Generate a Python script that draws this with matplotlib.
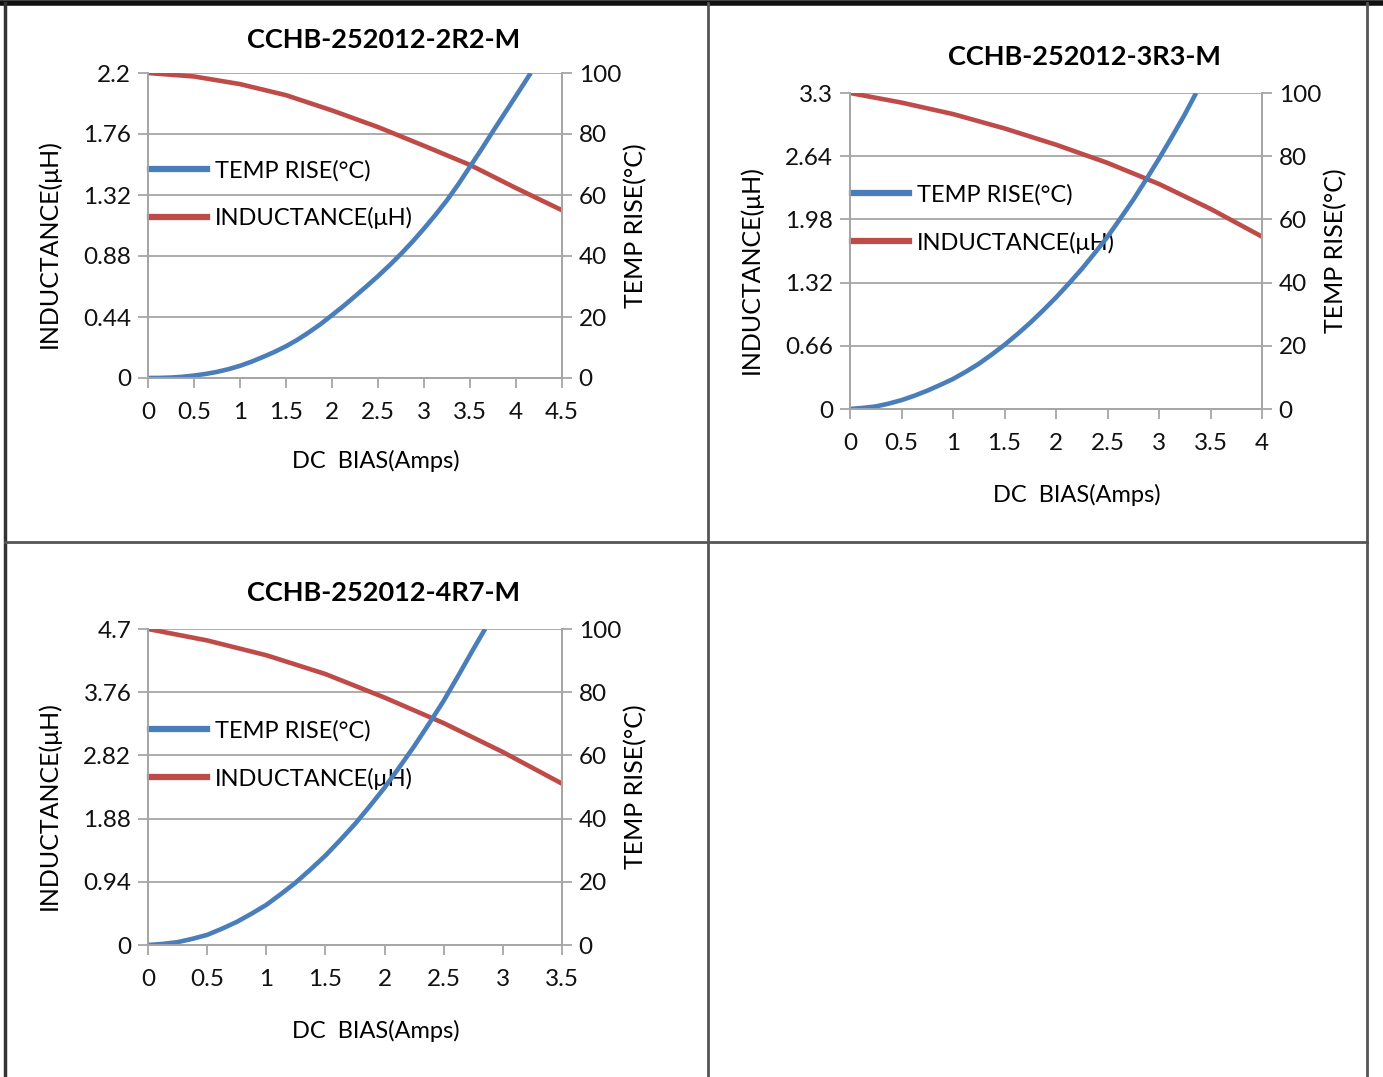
import matplotlib
matplotlib.use("Agg")
import matplotlib.pyplot as plt
from matplotlib.lines import Line2D

plt.rcParams['font.family'] = ['Lato', 'DejaVu Sans']

# ---- data ----
titles = ['CCHB-252012-2R2-M', 'CCHB-252012-3R3-M', 'CCHB-252012-4R7-M']

# panel 1 (2R2)
temp_x_1 = [0, 0.125, 0.25, 0.375, 0.5, 0.625, 0.75, 0.875, 1, 1.125, 1.25, 1.375, 1.5, 1.625,
            1.75, 1.875, 2, 2.125, 2.25, 2.375, 2.5, 2.625, 2.75, 2.875, 3, 3.125, 3.25,
            3.375, 3.5, 3.625, 3.75, 3.875, 4, 4.08, 4.16]
temp_y_1 = [0, 0.03, 0.15, 0.4, 0.8, 1.33, 2.0, 2.9, 4.0, 5.35, 6.9, 8.55, 10.4, 12.55,
            15.0, 17.65, 20.6, 23.6, 26.8, 30.05, 33.4, 36.95, 40.7, 44.7, 49.0, 53.5, 58.3,
            63.6, 69.3, 75.0, 80.9, 86.7, 92.5, 96.25, 100]
ind_x_1 = [0, 0.5, 1, 1.5, 2, 2.5, 3, 3.5, 4, 4.5]
ind_y_1 = [2.2, 2.175, 2.12, 2.04, 1.93, 1.81, 1.675, 1.537, 1.37, 1.21]

# panel 2 (3R3)
temp_x_2 = [0, 0.125, 0.25, 0.375, 0.5, 0.625, 0.75, 0.875, 1, 1.125, 1.25, 1.375, 1.5, 1.625,
            1.75, 1.875, 2, 2.125, 2.25, 2.375, 2.5, 2.625, 2.75, 2.875, 3, 3.125, 3.25,
            3.3, 3.36]
temp_y_2 = [0, 0.35, 0.8, 1.7, 2.8, 4.2, 5.8, 7.6, 9.5, 11.8, 14.3, 17.2, 20.3, 23.7,
            27.3, 31.2, 35.3, 39.7, 44.3, 49.3, 54.5, 60.3, 66.2, 72.6, 79.2, 86.1, 93.2,
            96.3, 100]
ind_x_2 = [0, 0.5, 1, 1.5, 2, 2.5, 3, 3.5, 4]
ind_y_2 = [3.3, 3.20, 3.08, 2.93, 2.76, 2.57, 2.35, 2.09, 1.80]

# panel 3 (4R7)
temp_x_3 = [0, 0.125, 0.25, 0.375, 0.5, 0.625, 0.75, 0.875, 1, 1.125, 1.25, 1.375, 1.5, 1.625,
            1.75, 1.875, 2, 2.125, 2.25, 2.375, 2.5, 2.625, 2.75, 2.8, 2.85]
temp_y_3 = [0, 0.35, 0.9, 1.95, 3.2, 5.15, 7.3, 9.9, 12.7, 16.15, 19.8, 23.95, 28.3, 33.2,
            38.3, 43.95, 49.8, 56.25, 62.9, 70.0, 77.3, 85.35, 93.6, 96.8, 100]
ind_x_3 = [0, 0.5, 1, 1.5, 2, 2.5, 3, 3.5]
ind_y_3 = [4.7, 4.53, 4.31, 4.03, 3.68, 3.30, 2.87, 2.40]

x_max = [4.5, 4, 3.5]
ind_max = [2.2, 3.3, 4.7]
ind_ticks = [[0, 0.44, 0.88, 1.32, 1.76, 2.2],
             [0, 0.66, 1.32, 1.98, 2.64, 3.3],
             [0, 0.94, 1.88, 2.82, 3.76, 4.7]]
ind_labels = [['0', '0.44', '0.88', '1.32', '1.76', '2.2'],
              ['0', '0.66', '1.32', '1.98', '2.64', '3.3'],
              ['0', '0.94', '1.88', '2.82', '3.76', '4.7']]
temp_ticks = [0, 20, 40, 60, 80, 100]

temps = [(temp_x_1, temp_y_1), (temp_x_2, temp_y_2), (temp_x_3, temp_y_3)]
inds = [(ind_x_1, ind_y_1), (ind_x_2, ind_y_2), (ind_x_3, ind_y_3)]

BLUE = '#4a7ebb'
RED = '#be4b48'
GRID = '#a6a6a6'

W, H = 1383, 1077
fig = plt.figure(figsize=(W / 100, H / 100), dpi=100)

# plot boxes in pixels: left, top, right, bottom
boxes = [(148, 73, 562, 378), (850, 93, 1262, 409), (148, 629, 562, 945)]
title_pad = [18, 20.5, 20.5]
xlabel_pad = [20, 22, 22]


def px_rect(l, t, r, b):
    return [l / W, 1 - b / H, (r - l) / W, (b - t) / H]


for i in range(3):
    l, t, r, b = boxes[i]
    ax = fig.add_axes(px_rect(l, t, r, b))
    ax2 = ax.twinx()

    ax.plot(inds[i][0], inds[i][1], color=RED, lw=3.3, solid_capstyle='butt',
            solid_joinstyle='round')
    ax2.plot(temps[i][0], temps[i][1], color=BLUE, lw=3.3, solid_capstyle='butt',
             solid_joinstyle='round')

    ax.set_xlim(0, x_max[i])
    ax.set_ylim(0, ind_max[i])
    ax2.set_ylim(0, 100)
    ax.set_yticks(ind_ticks[i])
    ax.set_yticklabels(ind_labels[i])
    ax2.set_yticks(temp_ticks)
    xt = [k * 0.5 for k in range(int(x_max[i] * 2) + 1)]
    ax.set_xticks(xt)
    ax.set_xticklabels(['%g' % v for v in xt])

    ax.grid(axis='y', color=GRID, lw=1.3)
    ax.set_axisbelow(True)
    for a in (ax, ax2):
        a.spines['top'].set_visible(False)
        for s in ('left', 'right', 'bottom'):
            a.spines[s].set_color(GRID)
            a.spines[s].set_linewidth(1.3)
        a.tick_params(colors=GRID, labelcolor='#111111', labelsize=17.5,
                      width=1.3, length=7)
    ax.tick_params(axis='x', pad=10)
    ax.tick_params(axis='y', pad=5)
    ax2.tick_params(axis='y', pad=5)

    ax.set_title(titles[i], fontsize=19.5, fontweight='bold', pad=title_pad[i], x=0.57)
    ax.set_xlabel('DC  BIAS(Amps)', fontsize=17, labelpad=xlabel_pad[i], x=0.55)
    ax.set_ylabel('INDUCTANCE(μH)', fontsize=18, labelpad=16, y=0.44)
    ax2.set_ylabel('TEMP RISE(°C)', fontsize=18, labelpad=2)

    handles = [Line2D([], [], color=BLUE, lw=4.5), Line2D([], [], color=RED, lw=4.5)]
    ax.legend(handles, ['TEMP RISE(°C)', 'INDUCTANCE(μH)'], loc='center left',
              bbox_to_anchor=(0.005, 0.602), frameon=False, fontsize=17,
              handlelength=2.4, handletextpad=0.34, labelspacing=1.1,
              borderpad=0, borderaxespad=0)

# table frame around the panels
frame = [
    ((0, W), (3, 3), 4, '#111111'),
    ((5, 5), (3, H), 2.5, '#333333'),
    ((708, 708), (3, H), 2, '#555555'),
    ((1367, 1367), (3, H), 2, '#555555'),
    ((5, 1367), (542, 542), 2, '#555555'),
]
for xs, ys, lw, c in frame:
    fig.add_artist(Line2D([x / W for x in xs], [1 - y / H for y in ys],
                          transform=fig.transFigure, color=c, lw=lw))

fig.savefig('out.png', dpi=100, facecolor='white')
